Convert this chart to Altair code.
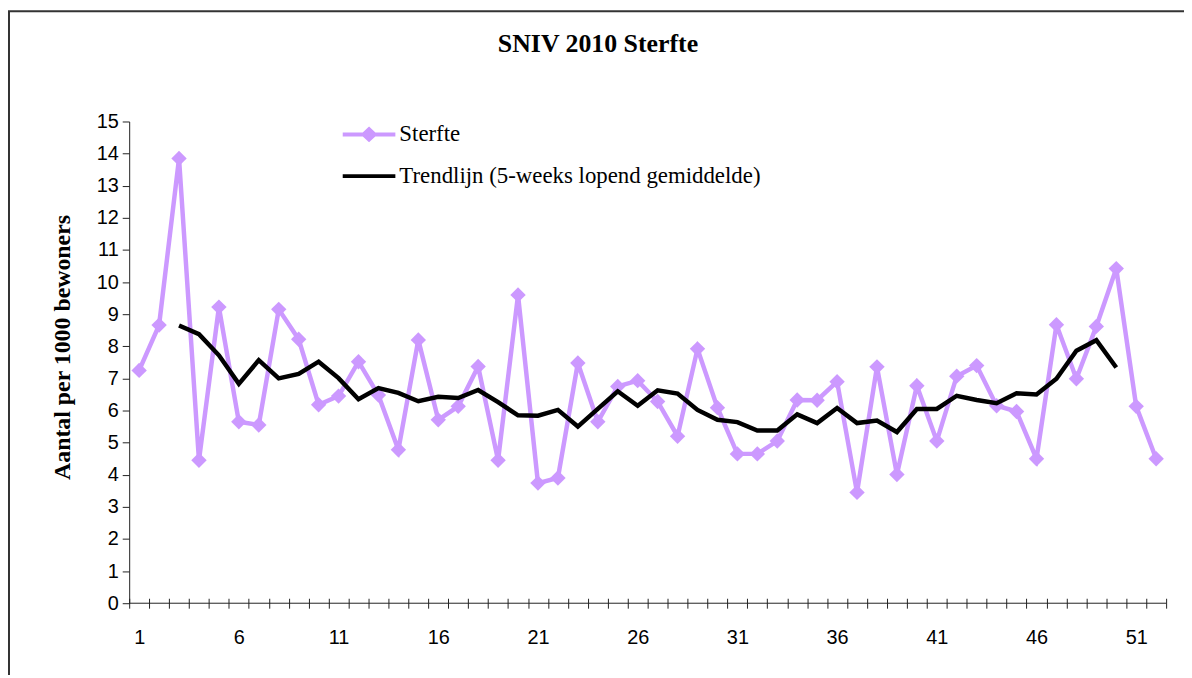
import altair as alt
import pandas as pd

# ---- data ----
weeks = list(range(1, 53))
sterfte = [7.25, 8.66, 13.85, 4.45, 9.22, 5.65, 5.55, 9.15, 8.22, 6.18,
           6.45, 7.52, 6.48, 4.78, 8.20, 5.71, 6.13, 7.37, 4.45, 9.60,
           3.74, 3.90, 7.48, 5.65, 6.75, 6.93, 6.28, 5.20, 7.92, 6.09,
           4.65, 4.65, 5.05, 6.33, 6.32, 6.90, 3.45, 7.36, 4.01, 6.77,
           5.05, 7.07, 7.40, 6.15, 5.97, 4.50, 8.67, 6.99, 8.62, 10.42,
           6.13, 4.50]
trend_weeks = list(range(3, 51))
trend = [8.65, 8.38, 7.72, 6.83, 7.57, 7.00, 7.14, 7.52, 7.01, 6.35,
         6.70, 6.55, 6.29, 6.43, 6.39, 6.64, 6.26, 5.85, 5.84, 6.02,
         5.50, 6.05, 6.60, 6.15, 6.63, 6.53, 6.02, 5.71, 5.64, 5.38,
         5.38, 5.88, 5.61, 6.08, 5.61, 5.69, 5.33, 6.05, 6.05, 6.46,
         6.33, 6.23, 6.54, 6.50, 6.99, 7.86, 8.19, 7.34]
series_names = ["Sterfte", "Trendlijn (5-weeks lopend gemiddelde)"]
y_ticks = list(range(0, 16))
tick_bounds = [w - 0.5 for w in weeks] + [52.5]

PURPLE = "#CC99FF"
W, H = 1044, 485
half = W / 52 / 2

df_s = pd.DataFrame({"week": weeks, "value": sterfte})
df_t = pd.DataFrame({"week": trend_weeks, "value": trend})
df_leg = pd.DataFrame({"series": series_names})
df_zero = pd.DataFrame({"value": [0]})
df_frame = pd.DataFrame({"k": [0]})

x_scale = alt.Scale(domain=[0.5, 52.5], nice=False, zero=False)
y_scale = alt.Scale(domain=[0, 15], nice=False)

x_axis = alt.Axis(
    values=tick_bounds, tickCount=100,
    labelExpr="(datum.value - 0.5) % 5 == 0 ? format(datum.value + 0.5, 'd') : ''",
    labelOffset=half, tickSize=10, offset=-5, domain=False,
    tickColor="#222", tickWidth=1,
    labelFont="Liberation Sans", labelFontSize=20, labelColor="black",
    labelPadding=20, labelFlush=False, labelOverlap=False, grid=False, title=None,
)
y_axis = alt.Axis(
    values=y_ticks, tickCount=40, format="d", tickSize=7, labelPadding=4,
    domainColor="#222", tickColor="#222",
    labelFont="Liberation Sans", labelFontSize=20, labelColor="black",
    labelOverlap=False, labelFlush=False,
    grid=False, title="Aantal per 1000 bewoners",
    titleFont="Liberation Serif", titleFontSize=24, titleFontWeight="bold",
    titleColor="black", titleAngle=-90, titleX=-67, titleY=227,
    titleAlign="center", titleBaseline="middle",
)

X = alt.X("week:Q", scale=x_scale, axis=x_axis)
Y = alt.Y("value:Q", scale=y_scale, axis=y_axis)

frame = alt.Chart(df_frame).mark_rect(fill=None, stroke="#333", strokeWidth=2).encode(
    x=alt.value(-121), x2=alt.value(2000), y=alt.value(-111), y2=alt.value(2000)
)

line_s = alt.Chart(df_s).mark_line(color=PURPLE, strokeWidth=4.5).encode(x=X, y=Y)
points_s = alt.Chart(df_s).mark_point(
    shape="diamond", filled=True, color=PURPLE, size=240, opacity=1
).encode(x=X, y=Y)
line_t = alt.Chart(df_t).mark_line(color="black", strokeWidth=4.5).encode(x=X, y=Y)

zero_rule = alt.Chart(df_zero).mark_rule(color="#222", strokeWidth=1).encode(y=Y)

sym_s = "M-1.325,-0.1H1.325V0.1H-1.325Z M-0.425,0L0,-0.4L0.425,0L0,0.4Z"
sym_t = "M-1.325,-0.1H1.325V0.1H-1.325Z"

leg = alt.Legend(
    orient="none", legendX=221.5, legendY=-7, title=None,
    labelFont="Liberation Serif", labelFontSize=23, labelColor="black",
    symbolSize=1600, symbolStrokeWidth=0, labelOffset=10.5, rowPadding=10,
    padding=0, labelLimit=600,
)
legend_layer = alt.Chart(df_leg).mark_point(filled=True, opacity=1, clip=True, size=1600).encode(
    x=alt.value(-50), y=alt.value(-50),
    color=alt.Color("series:N", scale=alt.Scale(domain=series_names, range=[PURPLE, "black"]), legend=leg),
    shape=alt.Shape("series:N", scale=alt.Scale(domain=series_names, range=[sym_s, sym_t]), legend=leg),
)

chart = alt.layer(line_s, frame, zero_rule, points_s, line_t, legend_layer).properties(
    width=W, height=H,
    padding={"left": 122, "top": 112, "right": 18, "bottom": 70},
    autosize=alt.AutoSizeParams(type="none"),
    title=alt.TitleParams(
        "SNIV 2010 Sterfte", font="Liberation Serif", fontSize=26, fontWeight="bold",
        color="black", anchor="middle", dx=-50, offset=-68, baseline="alphabetic",
    ),
).configure(background="white").configure_view(stroke=None)

chart.save("out.html", embed_options={"renderer": "svg", "actions": False})
